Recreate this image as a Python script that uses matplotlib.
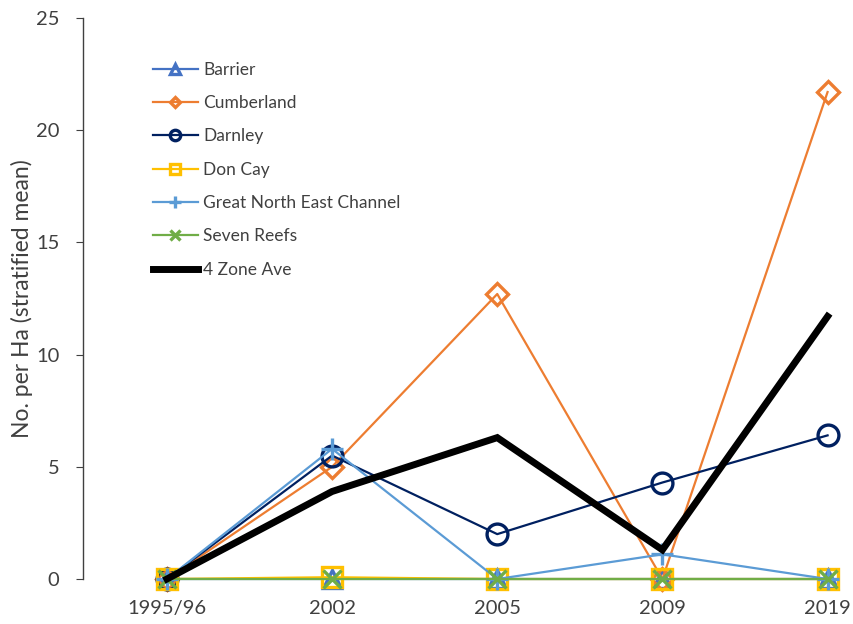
import matplotlib
matplotlib.use("Agg")
import matplotlib.pyplot as plt

years = ["1995/96", "2002", "2005", "2009", "2019"]
barrier = [0, 0, 0, 0, 0]
cumberland = [0, 5.0, 12.7, 0, 21.7]
darnley = [0, 5.5, 2.0, 4.3, 6.4]
don_cay = [0, 0.08, 0, 0, 0]
gnec = [0, 5.8, 0, 1.1, 0]
seven_reefs = [0, 0, 0, 0, 0]
zone_ave = [0, 3.9, 6.3, 1.3, 11.7]

series = [
    ("Barrier", barrier, "#4472C4", "^", 13),
    ("Cumberland", cumberland, "#ED7D31", "D", 11),
    ("Darnley", darnley, "#002060", "o", 15),
    ("Don Cay", don_cay, "#FFC000", "s", 14),
    ("Great North East Channel", gnec, "#5B9BD5", "+", 16),
    ("Seven Reefs", seven_reefs, "#70AD47", "x", 13),
]

plt.rcParams["font.family"] = ["Lato", "DejaVu Sans"]
text_col = "#404040"

fig = plt.figure(figsize=(8.54, 6.24), dpi=100)
ax = fig.add_axes([0.0972, 0.0721, 0.9028, 0.8991])

x = list(range(len(years)))
for name, vals, col, mk, ms in series:
    ax.plot(x, vals, color=col, lw=1.6, marker=mk, ms=ms,
            markerfacecolor="none", markeredgecolor=col, mew=2.4,
            label=name, clip_on=False)
ax.plot(x, zone_ave, color="black", lw=5, label="4 Zone Ave",
        solid_joinstyle="miter", clip_on=False)

ax.set_xlim(-0.508, 4.16)
ax.set_ylim(0, 25)
ax.set_yticks([0, 5, 10, 15, 20, 25])
ax.set_xticks(x)
ax.set_xticklabels(years)

for s in ["top", "right", "bottom"]:
    ax.spines[s].set_visible(False)
ax.spines["left"].set_color("#404040")
ax.spines["left"].set_linewidth(1.0)
ax.tick_params(axis="y", direction="out", length=5, colors="#404040",
               labelcolor=text_col, labelsize=14.5, pad=12)
ax.tick_params(axis="x", length=0, labelcolor=text_col, labelsize=14.5, pad=15)
ax.set_ylabel("No. per Ha (stratified mean)", color=text_col, fontsize=16.5)
ax.yaxis.set_label_coords(-0.065, 0.5)

leg = ax.legend(loc="upper left", bbox_to_anchor=(0.07, 0.95), frameon=False,
                fontsize=12.5, markerscale=0.5, handlelength=2.6,
                handletextpad=0.3, labelspacing=1.0, labelcolor=text_col)

fig.savefig("out.png", dpi=100)
